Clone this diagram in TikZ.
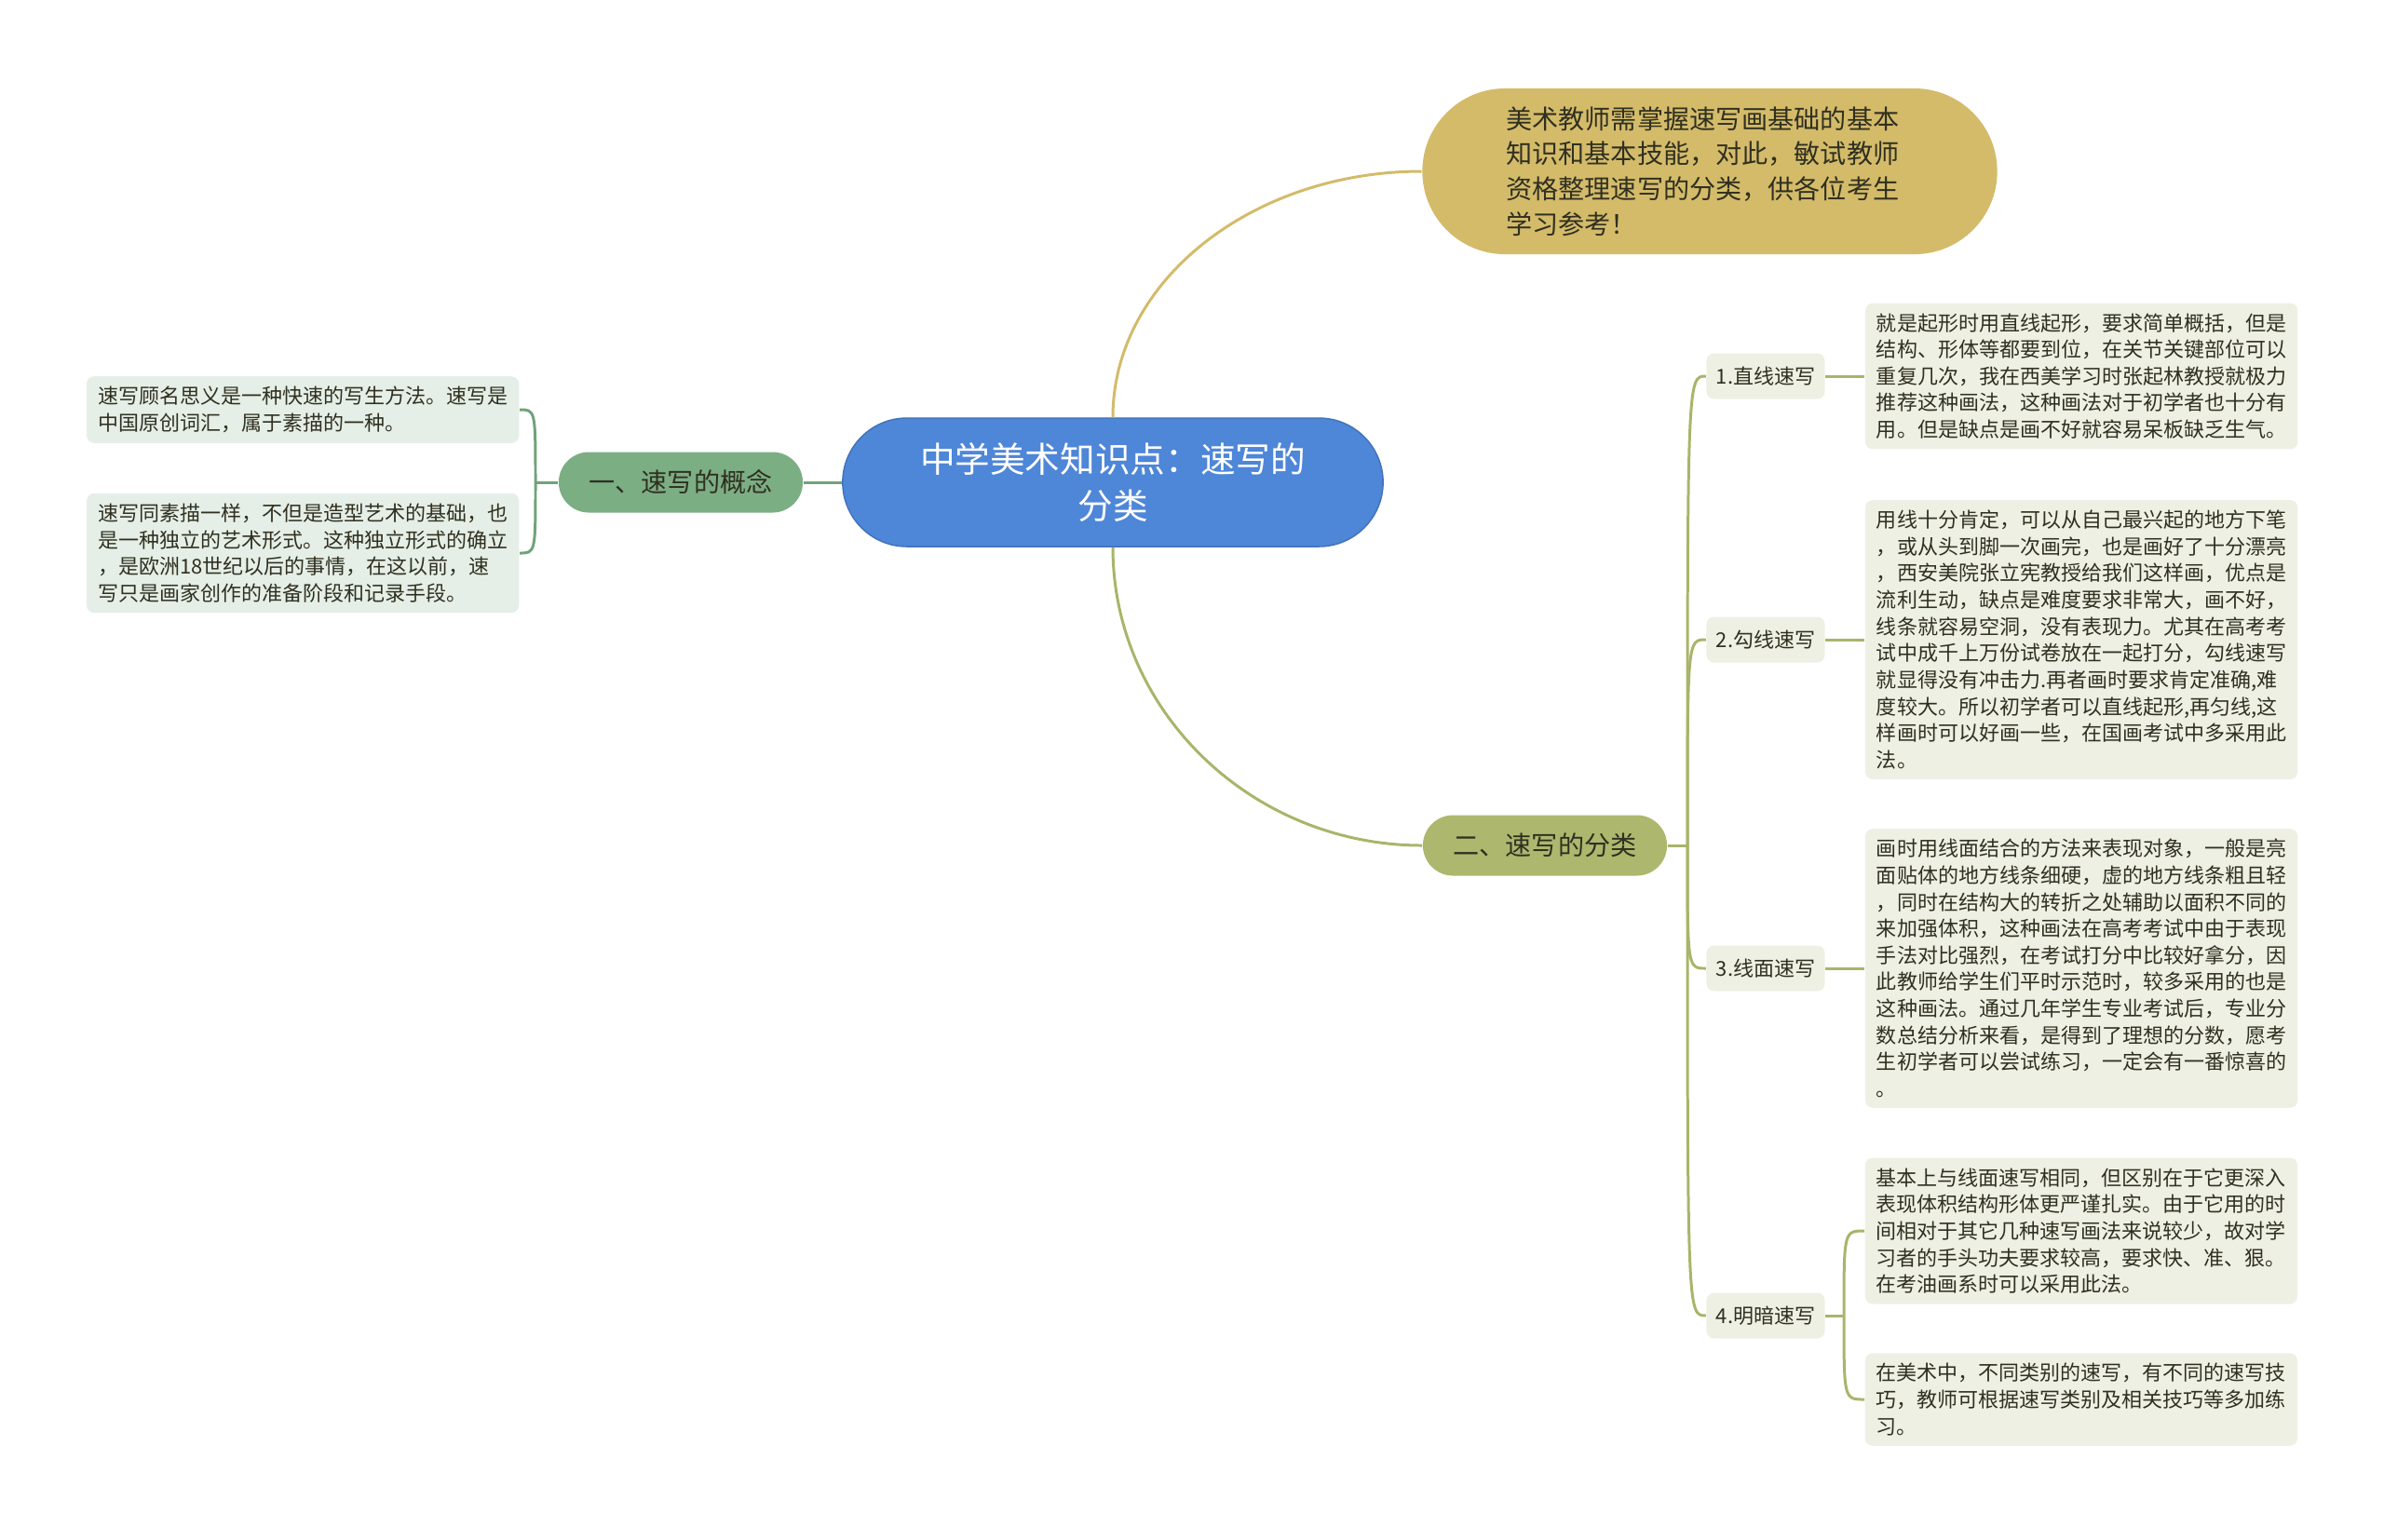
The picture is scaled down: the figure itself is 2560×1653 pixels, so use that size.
\documentclass[tikz,border=0pt]{standalone}
\usepackage{fontspec}
\setmainfont{Noto Sans CJK SC}
\usetikzlibrary{positioning}
\definecolor{rootblue}{RGB}{78,134,216}
\definecolor{introgold}{RGB}{212,187,106}
\definecolor{leftgreen}{RGB}{124,174,132}
\definecolor{leftline}{RGB}{112,163,122}
\definecolor{leftleaf}{RGB}{229,239,231}
\definecolor{rightolive}{RGB}{173,183,110}
\definecolor{rightline}{RGB}{170,180,106}
\definecolor{rightleaf}{RGB}{239,240,228}
\definecolor{inkdark}{RGB}{48,48,32}
\newcommand{\leaffont}{\fontsize{6.26pt}{8.14pt}\selectfont}
\newcommand{\headfont}{\fontsize{8pt}{10.7pt}\selectfont}

\begin{document}
\begin{tikzpicture}[x=0.01cm, y=-0.01cm,
  every node/.style={font=\leaffont, text=inkdark, inner sep=0pt},
  rootbox/.style={fill=rootblue, draw=rootblue!85!black, line width=0.4pt, rounded corners=0.69cm, minimum width=5.8cm, minimum height=1.38cm, text=white, align=center, font=\fontsize{10.7pt}{14.4pt}\selectfont},
  introbox/.style={fill=introgold, rounded corners=0.89cm, minimum width=6.17cm, minimum height=1.78cm, text width=4.37cm, align=left, font=\headfont},
  branch/.style={rounded corners=0.325cm, minimum width=2.62cm, minimum height=0.65cm, font=\headfont},
  item/.style={fill=rightleaf, rounded corners=0.08cm, minimum width=1.27cm, minimum height=0.49cm},
  leaf/.style={rounded corners=0.08cm, text width=4.4cm, align=left, inner xsep=0.12cm, inner ysep=0.11cm},
  link/.style={line width=0.85pt}]
\useasboundingbox (0,0) rectangle (2560,1653);

% centre and first level
\node[rootbox] (root) at (1195,518) {中学美术知识点：速写的\\分类};
\node[introbox] (intro) at (1836,184) {美术教师需掌握速写画基础的基本\\知识和基本技能，对此，敏试教师\\资格整理速写的分类，供各位考生\\学习参考！};
\node[branch, fill=leftgreen] (c1) at (731,518) {一、速写的概念};
\node[branch, fill=rightolive] (c2) at (1659,908) {二、速写的分类};

% left side
\node[leaf, fill=leftleaf, anchor=east] (d1) at (558,440) {速写顾名思义是一种快速的写生方法。速写是\\中国原创词汇，属于素描的一种。};
\node[leaf, fill=leftleaf, anchor=east] (d2) at (558,594) {速写同素描一样，不但是造型艺术的基础，也\\是一种独立的艺术形式。这种独立形式的确立\\，是欧洲18世纪以后的事情，在这以前，速\\写只是画家创作的准备阶段和记录手段。};

% right side
\node[item] (s1) at (1896,404) {1.直线速写};
\node[item] (s2) at (1896,687) {2.勾线速写};
\node[item] (s3) at (1896,1040) {3.线面速写};
\node[item] (s4) at (1896,1413) {4.明暗速写};

\node[leaf, fill=rightleaf, right=0.42cm of s1] (t1) {就是起形时用直线起形，要求简单概括，但是\\结构、形体等都要到位，在关节关键部位可以\\重复几次，我在西美学习时张起林教授就极力\\推荐这种画法，这种画法对于初学者也十分有\\用。但是缺点是画不好就容易呆板缺乏生气。};
\node[leaf, fill=rightleaf, right=0.42cm of s2] (t2) {用线十分肯定，可以从自己最兴起的地方下笔\\，或从头到脚一次画完，也是画好了十分漂亮\\，西安美院张立宪教授给我们这样画，优点是\\流利生动，缺点是难度要求非常大，画不好，\\线条就容易空洞，没有表现力。尤其在高考考\\试中成千上万份试卷放在一起打分，勾线速写\\就显得没有冲击力.再者画时要求肯定准确,难\\度较大。所以初学者可以直线起形,再匀线,这\\样画时可以好画一些，在国画考试中多采用此\\法。};
\node[leaf, fill=rightleaf, right=0.42cm of s3] (t3) {画时用线面结合的方法来表现对象，一般是亮\\面贴体的地方线条细硬，虚的地方线条粗且轻\\，同时在结构大的转折之处辅助以面积不同的\\来加强体积，这种画法在高考考试中由于表现\\手法对比强烈，在考试打分中比较好拿分，因\\此教师给学生们平时示范时，较多采用的也是\\这种画法。通过几年学生专业考试后，专业分\\数总结分析来看，是得到了理想的分数，愿考\\生初学者可以尝试练习，一定会有一番惊喜的\\。};
\node[leaf, fill=rightleaf, anchor=west] (t4) at (2002,1322) {基本上与线面速写相同，但区别在于它更深入\\表现体积结构形体更严谨扎实。由于它用的时\\间相对于其它几种速写画法来说较少，故对学\\习者的手头功夫要求较高，要求快、准、狠。\\在考油画系时可以采用此法。};
\node[leaf, fill=rightleaf, anchor=west] (t5) at (2002,1503) {在美术中，不同类别的速写，有不同的速写技\\巧，教师可根据速写类别及相关技巧等多加练\\习。};

% connectors
\coordinate (jl) at (575,518);
\coordinate (jr) at (1812,908);
\coordinate (j4) at (1980,1413);

\draw[link, leftline] (root.west) -- (c1.east);
\draw[link, leftline] (c1.west) -- (jl);
\foreach \d in {d1,d2}
  \draw[link, leftline] (jl) .. controls (jl |- \d.east) .. (\d.east);
\draw[link, introgold] (root.north) .. controls +(0,-147) and +(-181,0) .. (intro.west);
\draw[link, rightline] (root.south) .. controls +(0,177) and +(-182,0) .. (c2.west);
\draw[link, rightline] (c2.east) -- (jr);
\foreach \s in {s1,s2,s3,s4}
  \draw[link, rightline] (jr) .. controls (jr |- \s.west) .. (\s.west);
\foreach \s/\t in {s1/t1,s2/t2,s3/t3}
  \draw[link, rightline] (\s.east) -- (\t.west);
\draw[link, rightline] (s4.east) -- (j4);
\foreach \t in {t4,t5}
  \draw[link, rightline] (j4) .. controls (j4 |- \t.west) .. (\t.west);
\end{tikzpicture}
\end{document}
